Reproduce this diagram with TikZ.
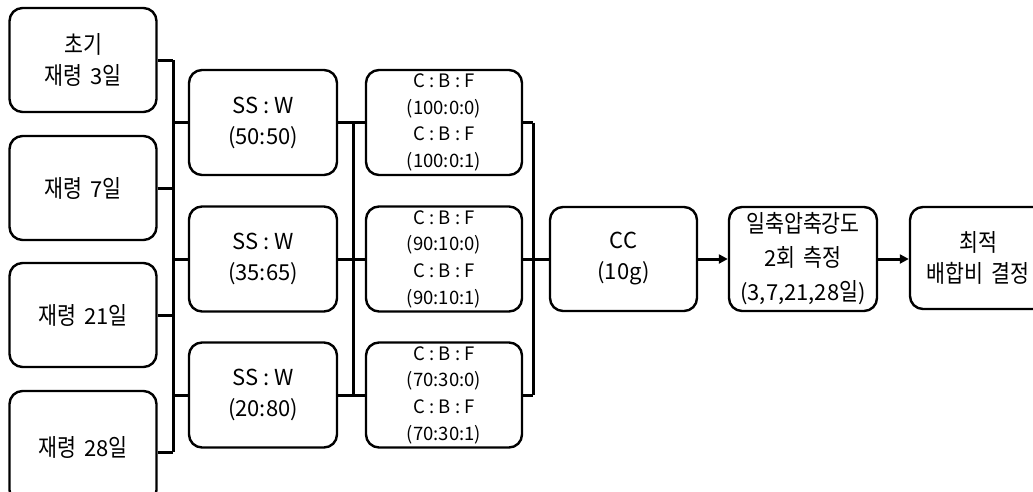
\documentclass[tikz,border=0pt]{standalone}
\usepackage{fontspec}
\setmainfont{Noto Sans CJK KR}
\newfontfamily\hf{Noto Sans CJK KR}[Scale=1.1,FakeStretch=0.85]
\newcommand{\hs}{\hspace{0.38em}}
\usetikzlibrary{arrows.meta}
\tikzset{
  box/.style={draw, line width=2.4pt, rounded corners=13pt, align=center, inner sep=0pt,
    font=\fontsize{22}{31}\selectfont},
  agebox/.style={box, minimum width=147pt, minimum height=104pt},
  ssbox/.style={box, minimum width=148pt, minimum height=105pt},
  cbfbox/.style={box, minimum width=156pt, minimum height=105pt, font=\fontsize{18.5}{26.7}\selectfont},
  conn/.style={line width=3pt},
  arr/.style={line width=3pt, -{Triangle[length=9pt,width=9pt]}}
}
\begin{document}
\begin{tikzpicture}[x=1pt,y=-1pt]
\useasboundingbox (0,0) rectangle (1033,491);
\clip (0,0) rectangle (1033,491);
% age boxes
\node[agebox] (a1) at (83,60) {{\hf 초기}\\{\hf 재령}\hs 3{\hf 일}};
\node[agebox] (a2) at (83,188) {{\hf 재령}\hs 7{\hf 일}};
\node[agebox] (a3) at (83,315) {{\hf 재령}\hs 21{\hf 일}};
\node[agebox, minimum height=112pt] (a4) at (83,447) {\raisebox{2pt}{{\hf 재령}\hs 28{\hf 일}}};
% SS:W boxes
\node[ssbox] (s1) at (263,122.5) {SS : W\\(50:50)};
\node[ssbox] (s2) at (263,259) {SS : W\\(35:65)};
\node[ssbox] (s3) at (263,395) {SS : W\\(20:80)};
% C:B:F boxes
\node[cbfbox] (c1) at (444,122.5) {C : B : F\\(100:0:0)\\C : B : F\\(100:0:1)};
\node[cbfbox] (c2) at (444,259) {C : B : F\\(90:10:0)\\C : B : F\\(90:10:1)};
\node[cbfbox] (c3) at (444,395) {C : B : F\\(70:30:0)\\C : B : F\\(70:30:1)};
% right chain
\node[box, minimum width=147pt, minimum height=104pt] (cc) at (623.5,259) {CC\\(10g)};
\node[box, minimum width=148pt, minimum height=104pt, font=\fontsize{22}{34}\selectfont] (m) at (803,259) {{\hf 일축압축강도}\\2{\hf 회}\hs{\hf 측정}\\(3,7,21,28{\hf 일})};
\node[box, minimum width=136pt, minimum height=102pt] (f) at (978,258) {{\hf 최적}\\{\hf 배합비}\hs{\hf 결정}};
% buses
\coordinate (b1) at (173,0);
\coordinate (b2) at (353,0);
\coordinate (b3) at (533,0);
% age -> bus1
\draw[conn] (a1.east) -- (a1.east -| b1);
\draw[conn] (a2.east) -- (a2.east -| b1);
\draw[conn] (a3.east) -- (a3.east -| b1);
\draw[conn] ([yshift=-5pt]a4.east) -- ([yshift=-5pt]a4.east -| b1);
\draw[conn] (a1.east -| b1) -- ([yshift=-5pt]a4.east -| b1);
\draw[conn] (b1 |- s1.west) -- (s1.west);
\draw[conn] (b1 |- s2.west) -- (s2.west);
\draw[conn] (b1 |- s3.west) -- (s3.west);
% ss -> bus2 -> cbf
\draw[conn] (s1.east) -- (c1.west);
\draw[conn] (s2.east) -- (c2.west);
\draw[conn] (s3.east) -- (c3.west);
\draw[conn] (b2 |- s1.east) -- (b2 |- s3.east);
% cbf -> bus3
\draw[conn] (c1.east) -- (c1.east -| b3);
\draw[conn] (c2.east) -- (c2.east -| b3);
\draw[conn] (c3.east) -- (c3.east -| b3);
\draw[conn] (c1.east -| b3) -- (c3.east -| b3);
\draw[conn] (b3 |- cc.west) -- (cc.west);
% arrows
\draw[arr] (cc.east) -- (m.west);
\draw[arr] (m.east) -- (m.east -| f.west);
\end{tikzpicture}
\end{document}
